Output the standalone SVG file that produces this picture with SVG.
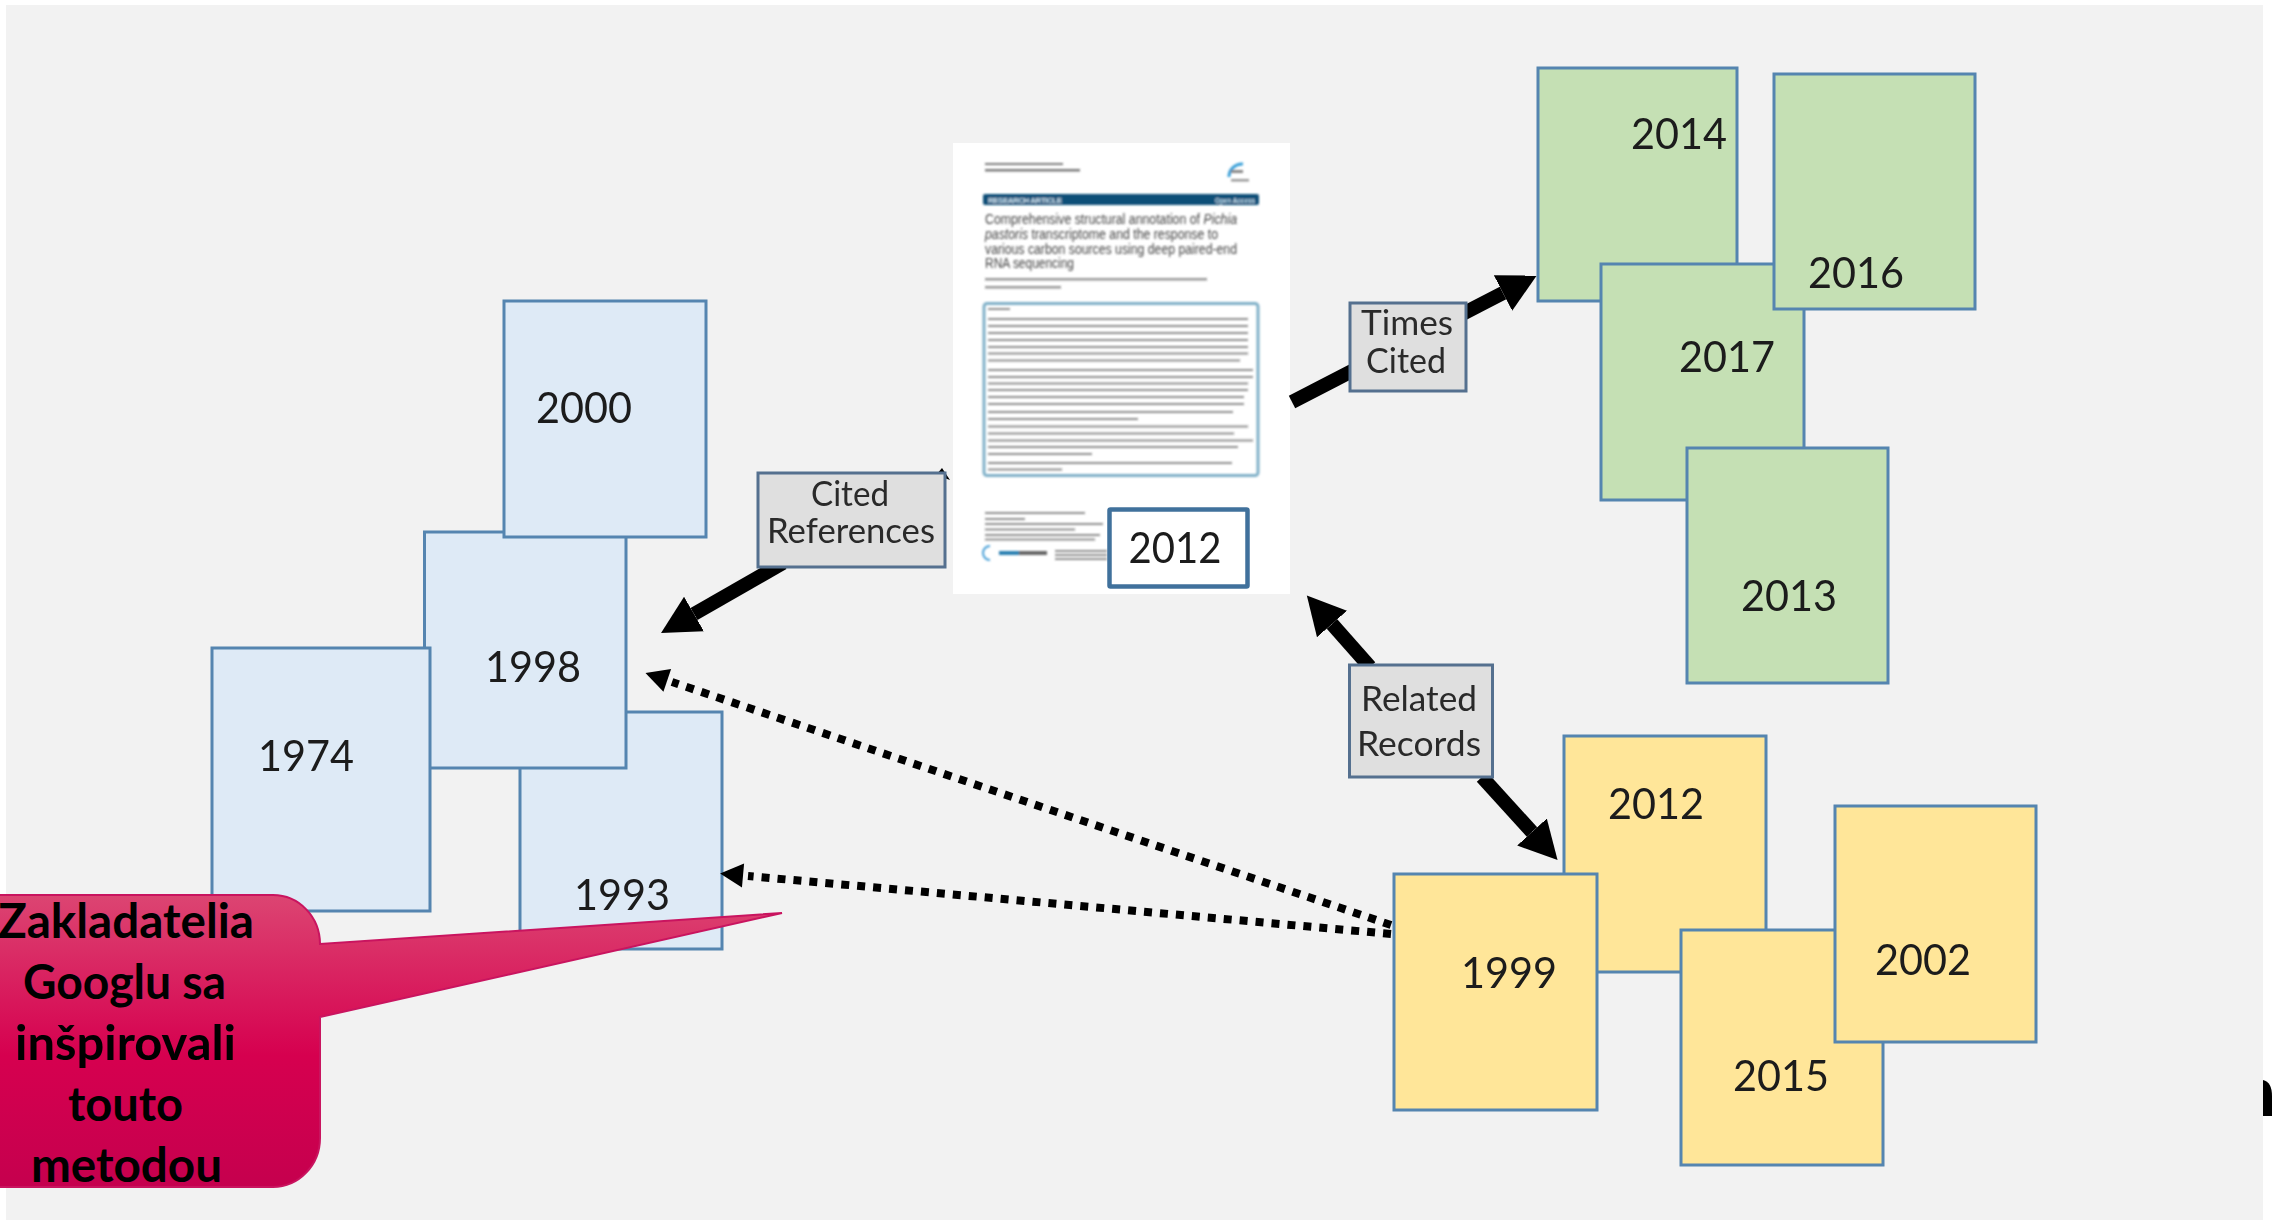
<svg xmlns="http://www.w3.org/2000/svg" width="2272" height="1221" viewBox="0 0 2272 1221">
<style>
.yr{font-family:Lato,"Liberation Sans",sans-serif;font-size:42px;fill:#1a1a1a;text-anchor:middle}
.lb{font-family:Lato,"Liberation Sans",sans-serif;font-size:35px;fill:#2a2a2a;text-anchor:middle}
.node{filter:url(#txt)}
.blue{fill:#DEEAF6;stroke:#5585B0;stroke-width:3}
.green{fill:#C5E0B4;stroke:#5585B0;stroke-width:3}
.yellow{fill:#FFE699;stroke:#5585B0;stroke-width:3}
.tag{fill:#DFDFDF;stroke:#55708F;stroke-width:3}
.thick{fill:none;stroke:#000;stroke-width:14;marker-end:url(#big)}
.dot{fill:none;stroke:#000;stroke-width:8;stroke-dasharray:8 8;marker-end:url(#small)}
.co{font-family:Lato,"Liberation Sans",sans-serif;font-size:48px;font-weight:700;fill:#000}
.ti{font-family:"Liberation Sans",sans-serif;font-size:14px;fill:#444}
.bn{font-family:"Liberation Sans",sans-serif;font-size:8px;font-weight:700;fill:#cfe2ee}
.g{fill:#444}
</style>
<defs>
<marker id="big" markerUnits="userSpaceOnUse" markerWidth="40" markerHeight="44" refX="0" refY="22" orient="auto"><path d="M0,2 L38,22 L0,42 Z" fill="#000"/></marker>
<marker id="small" markerUnits="userSpaceOnUse" markerWidth="30" markerHeight="26" refX="0" refY="13" orient="auto"><path d="M5,1 L28,13 L5,25 Z" fill="#000"/></marker>
<linearGradient id="cg" x1="0" y1="0" x2="0" y2="1"><stop offset="0" stop-color="#DC4572"/><stop offset="0.55" stop-color="#D6004F"/><stop offset="1" stop-color="#C5004E"/></linearGradient>
<filter id="soft" x="-5%" y="-5%" width="110%" height="110%"><feGaussianBlur stdDeviation="0.9"/></filter>
<filter id="txt" x="-5%" y="-5%" width="110%" height="110%"><feGaussianBlur stdDeviation="0.45"/></filter>
</defs>
<rect width="2272" height="1221" fill="#fff"/>
<rect x="6" y="5" width="2257" height="1215" fill="#F2F2F2"/>

<g id="year-1993" class="node"><rect class="blue" x="520" y="712" width="202" height="237"/><text class="yr" x="622" y="910" textLength="96" lengthAdjust="spacingAndGlyphs">1993</text></g>
<g id="year-1998" class="node"><rect class="blue" x="424.500" y="532" width="201.500" height="236"/><text class="yr" x="533" y="682" textLength="96" lengthAdjust="spacingAndGlyphs">1998</text></g>
<g id="year-2000" class="node"><rect class="blue" x="504" y="301" width="202" height="236"/><text class="yr" x="584" y="423" textLength="96" lengthAdjust="spacingAndGlyphs">2000</text></g>
<g id="year-1974" class="node"><rect class="blue" x="212" y="648" width="218" height="263"/><text class="yr" x="306" y="771" textLength="96" lengthAdjust="spacingAndGlyphs">1974</text></g>

<g id="year-2014" class="node"><rect class="green" x="1538" y="68" width="199" height="233"/><text class="yr" x="1679" y="149" textLength="96" lengthAdjust="spacingAndGlyphs">2014</text></g>
<g id="year-2017" class="node"><rect class="green" x="1601" y="264" width="203" height="236"/><text class="yr" x="1727" y="372" textLength="96" lengthAdjust="spacingAndGlyphs">2017</text></g>
<g id="year-2016" class="node"><rect class="green" x="1774" y="74" width="201" height="235"/><text class="yr" x="1856" y="288" textLength="96" lengthAdjust="spacingAndGlyphs">2016</text></g>
<g id="year-2013" class="node"><rect class="green" x="1687" y="448" width="201" height="235"/><text class="yr" x="1789" y="611" textLength="96" lengthAdjust="spacingAndGlyphs">2013</text></g>

<g id="year-2012b" class="node"><rect class="yellow" x="1564" y="736" width="202" height="236"/><text class="yr" x="1656" y="819" textLength="96" lengthAdjust="spacingAndGlyphs">2012</text></g>
<g id="year-2015" class="node"><rect class="yellow" x="1681" y="930" width="202" height="235"/><text class="yr" x="1781" y="1091" textLength="96" lengthAdjust="spacingAndGlyphs">2015</text></g>
<g id="year-2002" class="node"><rect class="yellow" x="1835" y="806" width="201" height="236"/><text class="yr" x="1923" y="975" textLength="96" lengthAdjust="spacingAndGlyphs">2002</text></g>
<g id="year-1999" class="node"><rect class="yellow" x="1394" y="874" width="203" height="236"/><text class="yr" x="1509" y="988" textLength="96" lengthAdjust="spacingAndGlyphs">1999</text></g>

<g id="paper">
<rect x="953" y="143" width="337" height="451" fill="#fff"/>
<g filter="url(#soft)">
<rect class="g" x="985" y="163" width="78" height="2" opacity=".7"/><rect class="g" x="985" y="169" width="95" height="2.500" opacity=".7"/>
<path d="M1229,177 A13,13 0 0 1 1243,164" fill="none" stroke="#3aa0d8" stroke-width="3"/>
<rect x="1231" y="170" width="12" height="3" fill="#888"/><rect x="1231" y="179" width="18" height="2.500" fill="#999"/>
<rect x="983" y="194" width="276" height="11" rx="2" fill="#0B4F78"/>
<text class="bn" x="988" y="202.500" textLength="74" lengthAdjust="spacing">RESEARCH ARTICLE</text>
<text class="bn" x="1215" y="202.500" textLength="40" lengthAdjust="spacingAndGlyphs">Open Access</text>
<text class="ti" x="985" y="224" textLength="252" lengthAdjust="spacingAndGlyphs">Comprehensive structural annotation of <tspan font-style="italic">Pichia</tspan></text>
<text class="ti" x="985" y="239" textLength="233" lengthAdjust="spacingAndGlyphs"><tspan font-style="italic">pastoris</tspan> transcriptome and the response to</text>
<text class="ti" x="985" y="254" textLength="252" lengthAdjust="spacingAndGlyphs">various carbon sources using deep paired-end</text>
<text class="ti" x="985" y="268" textLength="89" lengthAdjust="spacingAndGlyphs">RNA sequencing</text>
<rect class="g" x="985" y="278" width="222" height="2.500" opacity=".55"/><rect class="g" x="985" y="286" width="76" height="2.500" opacity=".55"/>
<rect x="984" y="303.500" width="274" height="172" rx="3" fill="none" stroke="#7FB0C8" stroke-width="3"/>
<g class="g" opacity=".6">
<rect x="988" y="308" width="22" height="2"/>
<rect x="988" y="318" width="260" height="2"/><rect x="988" y="325" width="260" height="2"/><rect x="988" y="332" width="260" height="2"/><rect x="988" y="339" width="260" height="2"/><rect x="988" y="346" width="260" height="2"/><rect x="988" y="352.500" width="260" height="2"/><rect x="988" y="359.500" width="252" height="2"/>
<rect x="988" y="369" width="265" height="2"/><rect x="988" y="376" width="265" height="2"/><rect x="988" y="382.500" width="260" height="2"/><rect x="988" y="389" width="260" height="2"/><rect x="988" y="396" width="256" height="2"/><rect x="988" y="403" width="256" height="2"/><rect x="988" y="411" width="245" height="2"/><rect x="988" y="418" width="150" height="2"/>
<rect x="988" y="425.500" width="260" height="2"/><rect x="988" y="432.500" width="246" height="2"/><rect x="988" y="439.500" width="265" height="2"/><rect x="988" y="446" width="250" height="2"/><rect x="988" y="453" width="104" height="2"/>
<rect x="988" y="462" width="244" height="2"/><rect x="988" y="468.500" width="74" height="2"/>
<rect x="985" y="512" width="100" height="2"/><rect x="985" y="518" width="40" height="2"/><rect x="985" y="523" width="118" height="2"/><rect x="985" y="528.500" width="90" height="2"/><rect x="985" y="534" width="115" height="2"/><rect x="985" y="538.500" width="110" height="2"/>
<rect x="1055" y="550" width="52" height="2"/><rect x="1055" y="554" width="52" height="2"/><rect x="1055" y="558" width="52" height="2"/>
</g>
<path d="M990,546 A7,7 0 0 0 990,560" fill="none" stroke="#4aa0d8" stroke-width="2"/>
<rect x="999" y="551" width="20" height="4" fill="#2c7fb0"/><rect x="1019" y="551" width="28" height="4" fill="#666"/>
</g>
<g filter="url(#txt)">
<rect x="1109.500" y="509.500" width="138" height="77" fill="#fff" stroke="#41719C" stroke-width="4.500" rx="1"/>
<text class="yr" x="1175" y="563" textLength="93" lengthAdjust="spacingAndGlyphs">2012</text>
</g>
</g>

<g id="connectors" filter="url(#txt)">
<line class="thick" x1="783" y1="563" x2="694" y2="614"/>
<line class="thick" x1="1292" y1="402" x2="1503" y2="293"/>
<line class="thick" x1="1370" y1="667" x2="1332" y2="624"/>
<line class="thick" x1="1482" y1="777" x2="1532" y2="832"/>
<line class="dot" x1="1391" y1="925" x2="672" y2="682"/>
<line class="dot" x1="1391" y1="934" x2="748" y2="876"/>
<path d="M936,475 L942,468 L950,480 Z" fill="#000"/>
</g>

<g id="label-cited" class="node"><rect class="tag" x="758" y="473" width="187" height="94"/><text class="lb" x="850" y="506" textLength="78" lengthAdjust="spacingAndGlyphs">Cited</text><text class="lb" x="851" y="543" textLength="168" lengthAdjust="spacingAndGlyphs">References</text></g>
<g id="label-times" class="node"><rect class="tag" x="1350" y="303" width="116" height="88"/><text class="lb" x="1407" y="335" textLength="92" lengthAdjust="spacingAndGlyphs">Times</text><text class="lb" x="1406" y="373" textLength="80" lengthAdjust="spacingAndGlyphs">Cited</text></g>
<g id="label-related" class="node"><rect class="tag" x="1349.500" y="665" width="143" height="112"/><text class="lb" x="1419" y="711" textLength="116" lengthAdjust="spacingAndGlyphs">Related</text><text class="lb" x="1419" y="756" textLength="124" lengthAdjust="spacingAndGlyphs">Records</text></g>

<g id="callout">
<path d="M-20,895 H273 A47,49 0 0 1 320,944 L782,913 L320,1017 V1138 A47,49 0 0 1 273,1187 H-20 Z" fill="url(#cg)" stroke="#C9145F" stroke-width="2"/>
<text class="co" x="-2" y="938" textLength="256" lengthAdjust="spacingAndGlyphs">Zakladatelia</text>
<text class="co" x="23" y="999" textLength="203" lengthAdjust="spacingAndGlyphs">Googlu sa</text>
<text class="co" x="15" y="1060" textLength="221" lengthAdjust="spacingAndGlyphs">inšpirovali</text>
<text class="co" x="68" y="1121" textLength="115" lengthAdjust="spacingAndGlyphs">touto</text>
<text class="co" x="31" y="1182" textLength="191" lengthAdjust="spacingAndGlyphs">metodou</text>
</g>
<path id="edge-mark" d="M2263,1080 Q2272,1082 2272,1096 V1116 H2263 Z" fill="#000"/>
</svg>
